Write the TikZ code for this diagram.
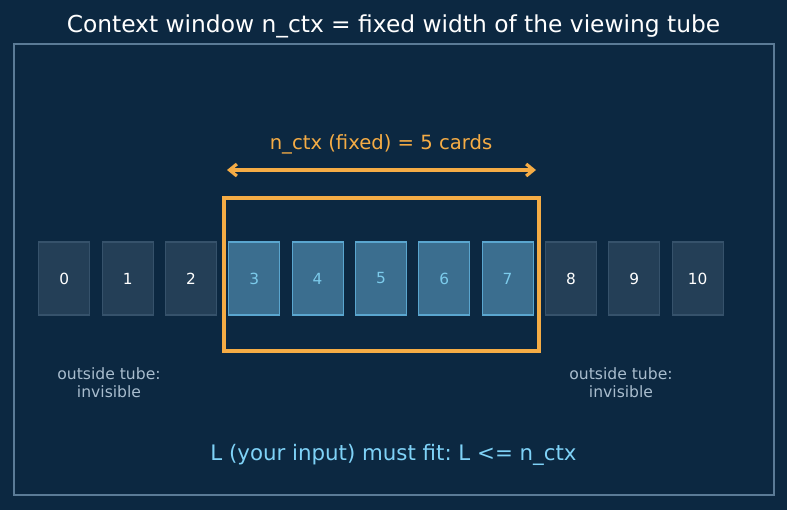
\documentclass[tikz,border=0pt]{standalone}
\usepackage{fontspec}
\setmainfont{DejaVu Sans}
\usetikzlibrary{arrows.meta}
\frenchspacing
\definecolor{bg}{HTML}{0C2841}
\definecolor{framec}{HTML}{5B7B96}
\definecolor{orangec}{HTML}{F5AC45}
\definecolor{outfill}{HTML}{243F57}
\definecolor{outdraw}{HTML}{36526B}
\definecolor{infill}{HTML}{3B6E8F}
\definecolor{indraw}{HTML}{5AA6CF}
\definecolor{intext}{HTML}{7CCBEB}
\definecolor{graytext}{HTML}{A9BDCE}
\definecolor{bottomtext}{HTML}{7FD2F7}
\begin{document}
\begin{tikzpicture}[x=0.75pt,y=-0.75pt,
  card/.style={minimum width=51*0.75pt,minimum height=73*0.75pt,inner sep=0pt,line width=0.9pt,font=\fontsize{11.5}{13}\selectfont},
  outcard/.style={card,fill=outfill,draw=outdraw,text=white},
  incard/.style={card,fill=infill,draw=indraw,text=intext},
  side/.style={text=graytext,align=center,font=\fontsize{11.7}{13.5}\selectfont}]
\fill[bg] (0,0) rectangle (787,510);
\useasboundingbox (0,0) rectangle (787,510);
\node[text=white,font=\fontsize{17.5}{20}\selectfont] (title) at (393.5,26) {Context window n\_ctx = fixed width of the viewing tube};
\draw[framec,line width=1.1pt] (14,44) rectangle (774,495);
\foreach \i in {0,1,2,8,9,10} {
  \node[outcard] (c\i) at ({64.3+63.33*\i},278.5) {\i};
}
\foreach \i in {3,...,7} {
  \node[incard] (c\i) at ({64.3+63.33*\i},278.5) {\i};
}
\draw[orangec,line width=3.2pt] (224,198) rectangle (539,351);
\coordinate (al) at (227,170);
\coordinate (ar) at (536,170);
\draw[orangec,line width=2.4pt,{Straight Barb[length=5.5pt,width=9pt]}-{Straight Barb[length=5.5pt,width=9pt]}] (al) -- (ar);
\node[text=orangec,font=\fontsize{14.7}{17}\selectfont] (lab) at (381,144) {n\_ctx (fixed) = 5 cards};
\node[side] (ol) at (109,383) {outside tube:\\invisible};
\node[side] (or) at (621,383) {outside tube:\\invisible};
\node[text=bottomtext,font=\fontsize{16}{19}\selectfont] (bot) at (393.5,455) {L (your input) must fit: L <= n\_ctx};
\end{tikzpicture}
\end{document}
